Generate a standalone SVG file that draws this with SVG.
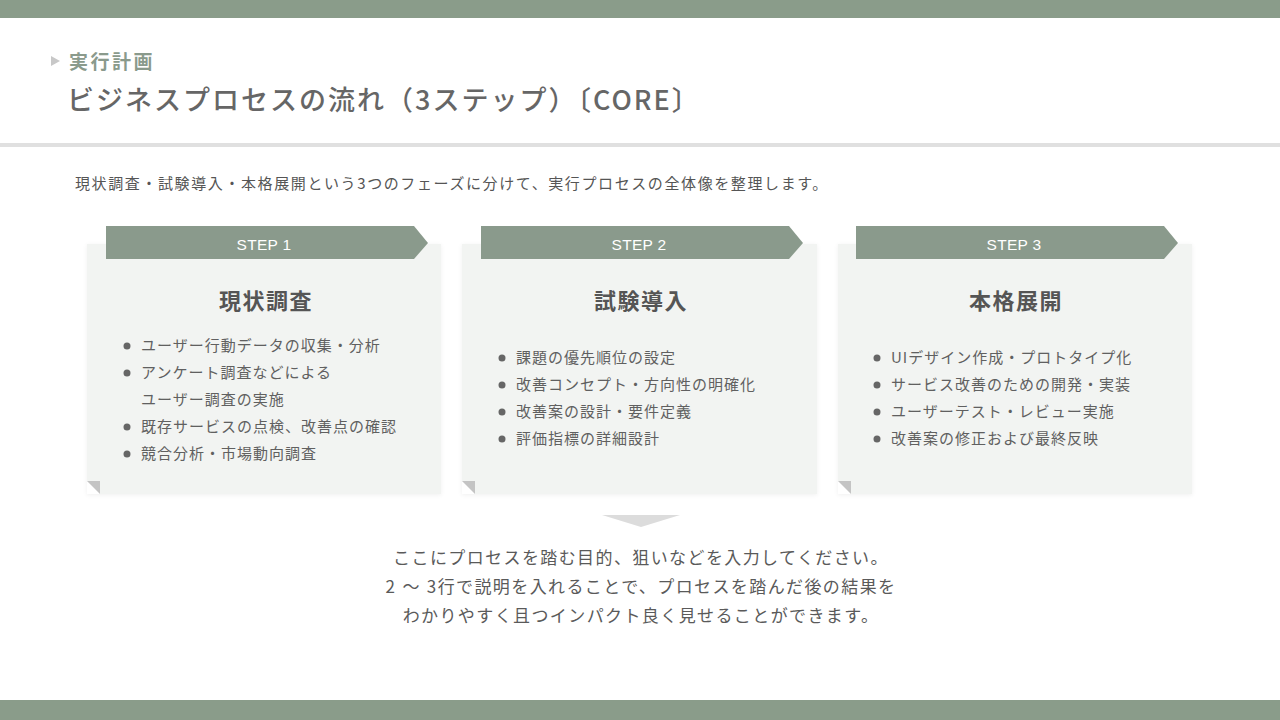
<svg xmlns="http://www.w3.org/2000/svg" width="1280" height="720" viewBox="0 0 1280 720">
<style>
.jp{font-family:"Noto Sans CJK JP","Noto Sans",sans-serif}
.card{fill:#f2f4f2}
.rib{fill:#8a9a8c}
.fold{fill:#c4c4c4}
.step{font-family:"Liberation Sans","Noto Sans",sans-serif;font-size:15.5px;fill:#ffffff;text-anchor:middle;letter-spacing:0.3px}
.head{font-family:"Noto Sans CJK JP",sans-serif;font-size:22px;font-weight:bold;fill:#555555;text-anchor:middle;letter-spacing:1.5px}
.item{font-family:"Noto Sans CJK JP",sans-serif;font-size:15px;fill:#606060;letter-spacing:1px}
.dot{fill:#666666}
.foot{font-family:"Noto Sans CJK JP",sans-serif;font-size:17px;fill:#5a5a5a;text-anchor:middle;letter-spacing:1.4px}
</style>
<defs>
<filter id="sh" x="-5%" y="-5%" width="110%" height="110%">
<feDropShadow dx="0" dy="1" stdDeviation="2" flood-color="#000" flood-opacity="0.06"/>
</filter>
</defs>
<rect x="0" y="0" width="1280" height="720" fill="#ffffff"/>
<rect x="0" y="0" width="1280" height="18" fill="#8a9c8a"/>
<rect x="0" y="700" width="1280" height="20" fill="#8a9c8a"/>
<rect x="0" y="143" width="1280" height="4" fill="#e0e0e0"/>
<g id="header">
<polygon points="51,56 60,61 51,66" fill="#c8c8c8"/>
<text x="69" y="69" class="jp" font-size="19" font-weight="bold" fill="#8a9a8c" letter-spacing="2.5">実行計画</text>
<text x="67" y="110" class="jp" font-size="27" font-weight="500" fill="#666666" letter-spacing="2">ビジネスプロセスの流れ（3ステップ）〔CORE〕</text>
<text x="75" y="189" class="jp" font-size="15" fill="#555555" letter-spacing="1.6">現状調査・試験導入・本格展開という3つのフェーズに分けて、実行プロセスの全体像を整理します。</text>
</g>
<g id="step1">
<rect x="87" y="244" width="354" height="250" class="card" filter="url(#sh)"/>
<polygon points="87,481 100,481 100,494 87,494" fill="#ffffff"/>
<polygon points="87,481 100,481 100,494" class="fold"/>
<polygon points="106,226 414,226 428,243 414,259 106,259" class="rib"/>
<text x="264" y="250" class="step">STEP 1</text>
<text x="266" y="309" class="head">現状調査</text>
<circle cx="127" cy="346" r="3.5" class="dot"/>
<text x="141" y="351" class="item">ユーザー行動データの収集・分析</text>
<circle cx="127" cy="373" r="3.5" class="dot"/>
<text x="141" y="378" class="item">アンケート調査などによる</text>
<text x="141" y="405" class="item">ユーザー調査の実施</text>
<circle cx="127" cy="427" r="3.5" class="dot"/>
<text x="141" y="432" class="item">既存サービスの点検、改善点の確認</text>
<circle cx="127" cy="454" r="3.5" class="dot"/>
<text x="141" y="459" class="item">競合分析・市場動向調査</text>
</g>
<g id="step2">
<rect x="462" y="244" width="355" height="250" class="card" filter="url(#sh)"/>
<polygon points="462,481 475,481 475,494 462,494" fill="#ffffff"/>
<polygon points="462,481 475,481 475,494" class="fold"/>
<polygon points="481,226 789,226 803,243 789,259 481,259" class="rib"/>
<text x="639" y="250" class="step">STEP 2</text>
<text x="641" y="309" class="head">試験導入</text>
<circle cx="502" cy="358" r="3.5" class="dot"/>
<text x="516" y="363" class="item">課題の優先順位の設定</text>
<circle cx="502" cy="385" r="3.5" class="dot"/>
<text x="516" y="390" class="item">改善コンセプト・方向性の明確化</text>
<circle cx="502" cy="412" r="3.5" class="dot"/>
<text x="516" y="417" class="item">改善案の設計・要件定義</text>
<circle cx="502" cy="439" r="3.5" class="dot"/>
<text x="516" y="444" class="item">評価指標の詳細設計</text>
</g>
<g id="step3">
<rect x="838" y="244" width="354" height="250" class="card" filter="url(#sh)"/>
<polygon points="838,481 851,481 851,494 838,494" fill="#ffffff"/>
<polygon points="838,481 851,481 851,494" class="fold"/>
<polygon points="856,226 1164,226 1178,243 1164,259 856,259" class="rib"/>
<text x="1014" y="250" class="step">STEP 3</text>
<text x="1016" y="309" class="head">本格展開</text>
<circle cx="877" cy="358" r="3.5" class="dot"/>
<text x="891" y="363" class="item">UIデザイン作成・プロトタイプ化</text>
<circle cx="877" cy="385" r="3.5" class="dot"/>
<text x="891" y="390" class="item">サービス改善のための開発・実装</text>
<circle cx="877" cy="412" r="3.5" class="dot"/>
<text x="891" y="417" class="item">ユーザーテスト・レビュー実施</text>
<circle cx="877" cy="439" r="3.5" class="dot"/>
<text x="891" y="444" class="item">改善案の修正および最終反映</text>
</g>
<g id="connectors">
<polygon points="602,515 680,515 641,527" fill="#dcdcdc"/>
</g>
<g id="summary">
<text x="641" y="564" class="foot">ここにプロセスを踏む目的、狙いなどを入力してください。</text>
<text x="641" y="593" class="foot">2<tspan dx="6">～</tspan><tspan dx="6">3</tspan>行で説明を入れることで、プロセスを踏んだ後の結果を</text>
<text x="641" y="622" class="foot">わかりやすく且つインパクト良く見せることができます。</text>
</g>
</svg>
